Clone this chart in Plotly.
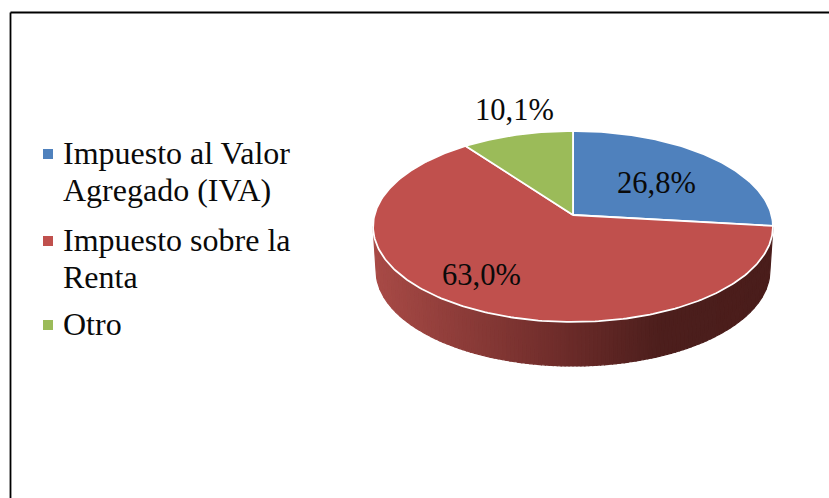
import math
import numpy as np
import plotly.graph_objects as go

# --- data ---
categories = ["Impuesto al Valor Agregado (IVA)", "Impuesto sobre la Renta", "Otro"]
legend_lines = [["Impuesto al Valor", "Agregado (IVA)"], ["Impuesto sobre la", "Renta"], ["Otro"]]
values = [26.8, 63.0, 10.1]
labels = ["26,8%", "63,0%", "10,1%"]

# --- style / geometry (pixels) ---
colors = ["#4F81BD", "#C0504D", "#9BBB59"]
W, H = 829, 498
CX, CY = 573.0, 215.0
A, B, K = 198.5, 94.1, 0.1204     # perspective projection of the disc
DEPTH, SHRINK = 44.0, 0.985
label_pos = [(656, 183), (481.5, 275), (514, 110)]
legend_y = [[153, 190], [240, 277], [324]]
legend_marker_x, legend_text_x = 48, 63
grad = [(0.0, (168, 74, 70)), (0.45, (112, 45, 43)), (0.72, (76, 30, 28)), (1.0, (74, 29, 27))]
FONT = "Liberation Serif"
INK = "#0a0a0a"


def project(theta):
    """theta clockwise from 12 o'clock (radians) -> screen px"""
    X, Y = np.sin(theta), np.cos(theta)
    w = 1 + K * Y
    return CX + A * X / w, CY - B * Y / w


def side_color(x):
    f = (x - (CX - 200)) / 400
    f = min(max(f, 0), 1)
    for (f0, c0), (f1, c1) in zip(grad, grad[1:]):
        if f <= f1:
            t = (f - f0) / (f1 - f0)
            return "rgb(%d,%d,%d)" % tuple(round(a + (b - a) * t) for a, b in zip(c0, c1))
    return "rgb(%d,%d,%d)" % grad[-1][1]


fig = go.Figure()

# side wall: front of the disc as narrow strips for the horizontal gradient
th_r = math.pi - math.acos(K)
th_l = 2 * math.pi - th_r
dense = np.linspace(th_r, th_l, 4001)
dense_x = project(dense)[0]
edge_x = np.linspace(dense_x[0], dense_x[-1], 101)      # right to left, even in x
edges = np.interp(-edge_x, -dense_x, dense)
for t0, t1 in zip(edges[:-1], edges[1:]):
    ts = np.linspace(t0, t1, 6)
    xt, yt = project(ts)
    xb = CX + (xt - CX) * SHRINK
    yb = yt + DEPTH
    c = side_color(float(xt.mean()))
    fig.add_trace(go.Scatter(
        x=[*xt, *xb[::-1], xt[0]], y=[*yt, *yb[::-1], yt[0]],
        mode="lines", fill="toself", fillcolor=c, line=dict(color=c, width=1.2),
        hoverinfo="skip", showlegend=False))

# top face slices
total = sum(values)
start = 0.0
for name, v, col in zip(categories, values, colors):
    end = start + v / total * 2 * math.pi
    ts = np.linspace(start, end, max(int(v * 4), 8))
    xs, ys = project(ts)
    fig.add_trace(go.Scatter(
        x=[CX, *xs, CX], y=[CY, *ys, CY], mode="lines", fill="toself", fillcolor=col, name=name,
        line=dict(color="white", width=1.8), hoverinfo="name", showlegend=False))
    start = end

# legend: square key on the first line of each entry, text line by line
for name, lines, ys, col in zip(categories, legend_lines, legend_y, colors):
    fig.add_trace(go.Scatter(
        x=[legend_marker_x], y=[ys[0] + 1], mode="markers", name=name, showlegend=False,
        marker=dict(symbol="square", size=10, color=col), hoverinfo="name"))
    for line, y in zip(lines, ys):
        fig.add_annotation(x=legend_text_x, y=y, text=line, showarrow=False, xanchor="left", yanchor="middle",
                           xshift=-2, font=dict(family=FONT, size=32, color=INK))

for txt, (x, y) in zip(labels, label_pos):
    fig.add_annotation(x=x, y=y, text=txt, showarrow=False, xanchor="center", yanchor="middle",
                       font=dict(family=FONT, size=30.5, color=INK))

# frame
for x0, y0, x1, y1 in [(10.5, 12.5, W, 12.5), (10.5, 12.5, 10.5, H)]:
    fig.add_shape(type="line", x0=x0, y0=y0, x1=x1, y1=y1, line=dict(color="black", width=1.8))

fig.update_layout(
    width=W, height=H, margin=dict(l=0, r=0, t=0, b=0, autoexpand=False),
    paper_bgcolor="white", plot_bgcolor="white", showlegend=False,
    xaxis=dict(range=[0, W], visible=False, fixedrange=True),
    yaxis=dict(range=[H, 0], visible=False, fixedrange=True),
)
fig.write_html("out.html", config={"displayModeBar": False},
               post_script="document.body.style.margin='0';")
